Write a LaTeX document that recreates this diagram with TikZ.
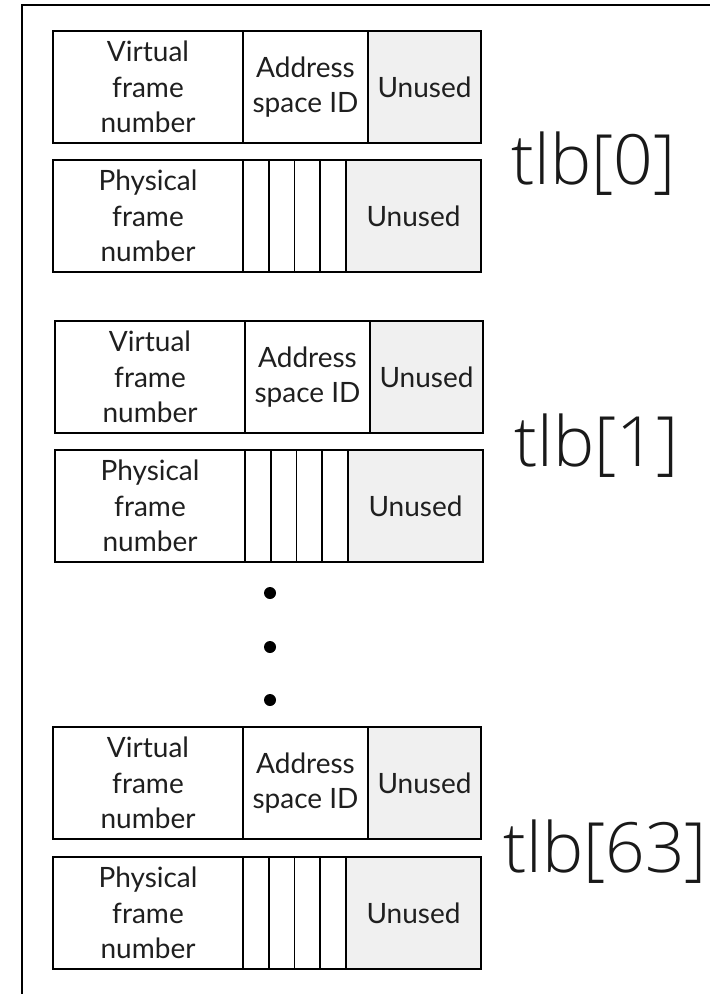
\documentclass[tikz,border=0pt]{standalone}
\usepackage{fontspec}
\setmainfont{Lato}
\newfontfamily\lightfont{Open Sans Light}
\newcommand\tlbgrp[7]{%
  \node[cell, minimum width=190*0.75pt] (v#1) at (#2,#3) {Virtual\\frame\\number};
  \node[cell, minimum width=125*0.75pt] (a#1) at (v#1.north east) {Address\\space ID};
  \node[cell, grey, minimum width=113*0.75pt] (u#1) at (a#1.north east) {Unused};
  \node[cell, minimum width=190*0.75pt] (p#1) at (#2,#4) {Physical\\frame\\number};
  \node[cell, bit] (b#1a) at (p#1.north east) {};
  \node[cell, bit] (b#1b) at (b#1a.north east) {};
  \node[cell, bit] (b#1c) at (b#1b.north east) {};
  \node[cell, bit] (b#1d) at (b#1c.north east) {};
  \node[cell, grey, minimum width=135*0.75pt] (q#1) at (b#1d.north east) {Unused};
  \node[lbl] (t#1) at (#6,#7) {#5};
}
\begin{document}
\begin{tikzpicture}[x=0.75pt,y=-0.75pt,
  cell/.style={draw, line width=1.4pt, inner sep=0pt, outer sep=0pt, align=center,
    minimum height=112*0.75pt, anchor=north west, text=black!88,
    font=\fontsize{21}{26.5}\selectfont},
  grey/.style={fill=black!6},
  bit/.style={minimum width=25.75*0.75pt},
  lbl/.style={font=\lightfont\fontsize{52}{60}\selectfont, anchor=base west,
    inner sep=0pt, text=black!90},
  dot/.style={circle, fill=black, inner sep=0pt, minimum size=9pt}]
\useasboundingbox (0,0) rectangle (710,994);
\coordinate (fb) at (22,994);
\coordinate (fr) at (710,5);
\draw[line width=1.6pt] (fb) |- (fr);
\tlbgrp{0}{53}{31}{160}{tlb[0]}{511}{185}
\tlbgrp{1}{55}{321}{450}{tlb[1]}{514}{466}
\tlbgrp{2}{53}{727}{857}{tlb[63]}{503}{872}
\node[dot] (d1) at (270,593) {};
\node[dot] (d2) at (270,647) {};
\node[dot] (d3) at (270,700) {};
\end{tikzpicture}
\end{document}
